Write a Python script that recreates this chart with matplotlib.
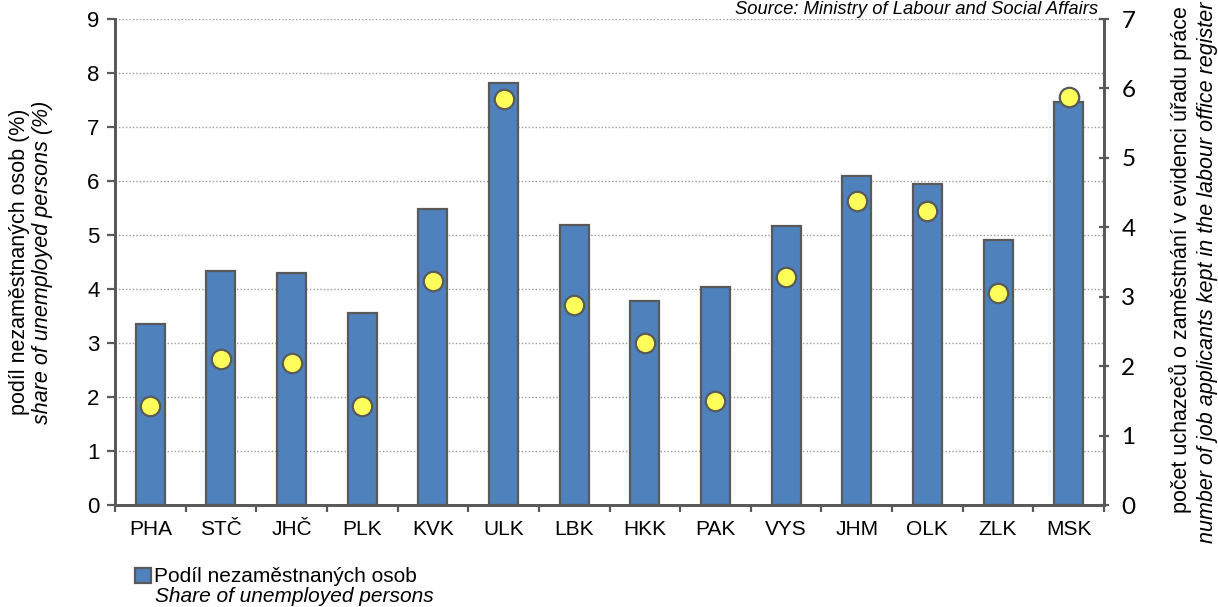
import matplotlib
matplotlib.use("Agg")
import matplotlib.pyplot as plt
import numpy as np

# ==== Data ==== #
regions = ["PHA", "STČ", "JHČ", "PLK", "KVK", "ULK", "LBK",
           "HKK", "PAK", "VYS", "JHM", "OLK", "ZLK", "MSK"]
share_unemployed = [3.36, 4.33, 4.29, 3.55, 5.48, 7.81, 5.18,
                    3.78, 4.03, 5.17, 6.10, 5.95, 4.91, 7.47]
applicants = [1.43, 2.10, 2.04, 1.43, 3.23, 5.85, 2.88,
              2.33, 1.50, 3.28, 4.38, 4.24, 3.05, 5.88]

left_ticks = list(range(0, 10))
right_ticks = list(range(0, 8))

# ==== Style ==== #
plt.rcParams["font.family"] = ["Liberation Sans", "DejaVu Sans"]
axis_col = "#595959"
bar_col = "#4F81BD"
dot_col = "#FFFF5C"

fig = plt.figure(figsize=(12.18, 6.07), dpi=100)
ax = fig.add_axes([115 / 1218, 1 - 505 / 607, (1104 - 115) / 1218, (505 - 19) / 607])

x = np.arange(len(regions))
bars = ax.bar(x, share_unemployed, width=0.41, color=bar_col,
              edgecolor=axis_col, linewidth=1.6, zorder=2)

ax.set_xlim(-0.5, len(regions) - 0.5)
ax.set_ylim(0, 9)
ax.set_yticks(left_ticks)
ax.tick_params(axis="y", labelsize=16, length=6, width=1.6,
               color=axis_col, pad=5)
ax.yaxis.grid(True, linestyle=(0, (1, 1.5)), color="#9a9a9a", linewidth=1)
ax.set_axisbelow(True)

# category labels centred, tick marks between categories
ax.set_xticks(x)
ax.set_xticklabels(regions, fontsize=15)
ax.tick_params(axis="x", length=0, pad=11)
ax.set_xticks(np.arange(-0.5, len(regions)), minor=True)
ax.tick_params(axis="x", which="minor", length=5, width=1.6, color=axis_col)

for side in ["left", "right", "bottom"]:
    ax.spines[side].set_color(axis_col)
    ax.spines[side].set_linewidth(2)
ax.spines["top"].set_visible(False)

# ==== Right axis: job applicants ==== #
ax2 = ax.twinx()
ax2.plot(x, applicants, linestyle="none", marker="o", markersize=14,
         markerfacecolor=dot_col, markeredgecolor=axis_col,
         markeredgewidth=1.6, zorder=3)
ax2.set_ylim(0, 7)
ax2.set_yticks(right_ticks)
ax2.tick_params(axis="y", labelsize=17.5, length=7, width=1.6,
                color=axis_col, direction="inout", pad=9)
for lab in ax2.get_yticklabels():
    lab.set_family(["Lato", "DejaVu Sans"])
for side in ["left", "right", "bottom"]:
    ax2.spines[side].set_color(axis_col)
    ax2.spines[side].set_linewidth(2)
ax2.spines["top"].set_visible(False)

# ==== Axis titles ==== #
fig.text(20 / 1218, 1 - 262 / 607, "podíl nezaměstnaných osob (%)",
         rotation=90, ha="center", va="center", fontsize=15.5)
fig.text(43 / 1218, 1 - 262 / 607, "share of unemployed persons (%)",
         rotation=90, ha="center", va="center", fontsize=15.5, style="italic")
fig.text(1180 / 1218, 1 - 260 / 607,
         "počet uchazečů o zaměstnání v evidenci úřadu práce",
         rotation=90, ha="center", va="center", fontsize=15.5)
fig.text(1207 / 1218, 1 - 272 / 607,
         "number of job applicants kept in the labour office register",
         rotation=90, ha="center", va="center", fontsize=15.5, style="italic")

# source note, top right
fig.text(1098 / 1218, 1 - 14 / 607, "Source: Ministry of Labour and Social Affairs",
         ha="right", va="baseline", fontsize=13.2, style="italic")

# ==== Legend ==== #
fig.legend([bars], ["Podíl nezaměstnaných osob"], loc="center left",
           bbox_to_anchor=(135 / 1218, 1 - 577 / 607), frameon=False,
           fontsize=15, handlelength=0.75, handleheight=0.75,
           handletextpad=0.15, borderpad=0, borderaxespad=0)
fig.text(155 / 1218, 1 - 597 / 607, "Share of unemployed persons",
         ha="left", va="center", fontsize=15, style="italic")

fig.savefig("out.png", dpi=100)
